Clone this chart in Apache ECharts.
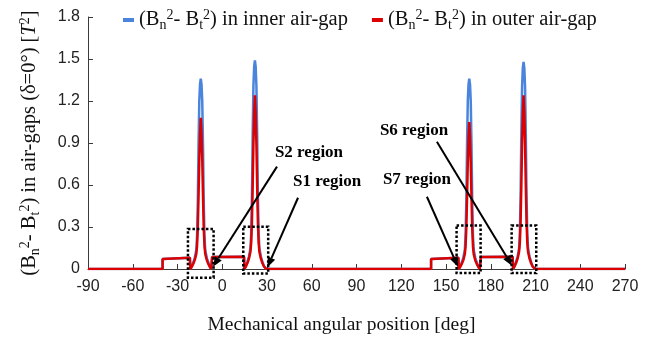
<!DOCTYPE html>
<html><head><meta charset="utf-8">
<script src="https://cdn.jsdelivr.net/npm/echarts@6/dist/echarts.min.js"></script>
<style>html,body{margin:0;padding:0;background:#fff}#c{width:656px;height:342px}</style>
</head><body><div id="c"></div>
<script>
// ---- data ----
const angle = [
  -90, -40, -40, -21.7,
  -21.4, -20.4, -19.4, -18.4, -17.4, -16.9, -16.4, -15.9, -15.4, -14.9, -14.4, -13.9, -13.4, -12.9, -12.4, -11.9, -11.4, -10.4, -9.4, -8.4, -7.4,
  -6.8, 14.6,
  14.9, 15.9, 16.9, 17.9, 18.9, 19.4, 19.9, 20.4, 20.9, 21.4, 21.9, 22.4, 22.9, 23.4, 23.9, 24.4, 24.9, 25.9, 26.9, 27.9, 29.6,
  140, 140, 158.3,
  158.6, 159.6, 160.6, 161.6, 162.6, 163.1, 163.6, 164.1, 164.6, 165.1, 165.6, 166.1, 166.6, 167.1, 167.6, 168.1, 168.6, 169.6, 170.6, 171.6, 172.6,
  173.4, 194.7,
  195.0, 196.0, 197.0, 198.0, 199.0, 199.5, 200.0, 200.5, 201.0, 201.5, 202.0, 202.5, 203.0, 203.5, 204.0, 204.5, 205.0, 206.0, 207.0, 208.0, 209.7,
  270
];
const innerAirGap = [
  0, 0, 0.072, 0.08,
  0, 0.02, 0.048, 0.082, 0.136, 0.231, 0.476, 0.884, 1.197, 1.319, 1.36, 1.319, 1.197, 0.884, 0.476, 0.231, 0.136, 0.082, 0.048, 0.02, 0,
  0.085, 0.088,
  0, 0.022, 0.052, 0.089, 0.149, 0.253, 0.522, 0.969, 1.311, 1.445, 1.49, 1.445, 1.311, 0.969, 0.522, 0.253, 0.149, 0.089, 0.052, 0.022, 0,
  0, 0.072, 0.08,
  0, 0.02, 0.048, 0.082, 0.136, 0.231, 0.476, 0.884, 1.197, 1.319, 1.36, 1.319, 1.197, 0.884, 0.476, 0.231, 0.136, 0.082, 0.048, 0.02, 0,
  0.085, 0.088,
  0, 0.022, 0.052, 0.089, 0.148, 0.252, 0.518, 0.962, 1.302, 1.436, 1.48, 1.436, 1.302, 0.962, 0.518, 0.252, 0.148, 0.089, 0.052, 0.022, 0,
  0
];
const outerAirGap = [
  0, 0, 0.072, 0.08,
  0, 0.016, 0.038, 0.065, 0.108, 0.162, 0.29, 0.52, 0.78, 0.97, 1.08, 0.97, 0.78, 0.52, 0.29, 0.162, 0.108, 0.065, 0.038, 0.016, 0,
  0.085, 0.088,
  0, 0.019, 0.043, 0.074, 0.124, 0.186, 0.335, 0.595, 0.893, 1.116, 1.24, 1.116, 0.893, 0.595, 0.335, 0.186, 0.124, 0.074, 0.043, 0.019, 0,
  0, 0.072, 0.08,
  0, 0.016, 0.037, 0.063, 0.105, 0.158, 0.284, 0.504, 0.756, 0.945, 1.05, 0.945, 0.756, 0.504, 0.284, 0.158, 0.105, 0.063, 0.037, 0.016, 0,
  0.085, 0.088,
  0, 0.019, 0.043, 0.074, 0.124, 0.186, 0.335, 0.595, 0.893, 1.116, 1.24, 1.116, 0.893, 0.595, 0.335, 0.186, 0.124, 0.074, 0.043, 0.019, 0,
  0
];
const xTickLabels = [-90, -60, -30, 0, 30, 60, 90, 120, 150, 180, 210, 240, 270];
const yTickLabels = [0, 0.3, 0.6, 0.9, 1.2, 1.5, 1.8];
const seriesNames = ['inner', 'outer'];
const regionNames = ['S2 region', 'S1 region', 'S6 region', 'S7 region'];

// ---- annotation geometry (data units) ----
const regionBoxes = [
  [-23, -5.8, -0.062, 0.286],
  [14.1, 30.8, -0.032, 0.302],
  [157.1, 173.2, -0.029, 0.31],
  [194, 210.5, -0.029, 0.31]
];
const regionLabelAt = [[35.3, 0.831], [47.4, 0.624], [105.7, 0.988], [107.7, 0.638]];
const regionArrowFrom = [[36.7, 0.731], [50.8, 0.509], [143.9, 0.909], [137.2, 0.516]];
const regionArrowTo = [[-6.2, 0.016], [30.3, 0.013], [194.2, 0.024], [158, 0.016]];

const SERIF = "'Liberation Serif','Times New Roman',serif";
const SANS = "'Liberation Sans',Arial,sans-serif";
const richBase = {
  a: {fontFamily: SERIF, fontSize: 20.5, color: '#111', lineHeight: 24},
  it: {fontFamily: SERIF, fontSize: 20.5, color: '#111', fontStyle: 'italic', lineHeight: 24},
  sub: {fontFamily: SERIF, fontSize: 14, color: '#111', verticalAlign: 'bottom', lineHeight: 14},
  sup: {fontFamily: SERIF, fontSize: 14, color: '#111', verticalAlign: 'top', lineHeight: 14}
};

const pairs = arr => angle.map((x, i) => [x, arr[i]]);

const chart = echarts.init(document.getElementById('c'), null, {renderer: 'canvas'});
const option = {
  animation: false,
  backgroundColor: '#fff',
  grid: {left: 88, right: 31, top: 17, bottom: 73},
  legend: {
    data: seriesNames,
    left: 118, top: 3,
    icon: 'rect', itemWidth: 11, itemHeight: 4, itemGap: 24,
    formatter: n => '{a|(B}{sub|n}{sup|2}{a|- B}{sub|t}{sup|2}{a|) in ' + n + ' air-gap}',
    textStyle: {rich: richBase}
  },
  xAxis: {
    type: 'value',
    min: xTickLabels[0], max: xTickLabels[xTickLabels.length - 1],
    interval: xTickLabels[1] - xTickLabels[0],
    axisLine: {onZero: false, lineStyle: {color: '#3a3a3a', width: 1}},
    axisTick: {inside: true, length: 5, lineStyle: {color: '#3a3a3a'}},
    splitLine: {show: false},
    axisLabel: {fontFamily: SANS, fontSize: 16, color: '#222', margin: 10},
    name: 'Mechanical angular position [deg]',
    nameLocation: 'middle', nameGap: 46,
    nameTextStyle: {fontFamily: SERIF, fontSize: 19.5, color: '#111', padding: [0, 30, 0, 0]}
  },
  yAxis: {
    type: 'value',
    min: yTickLabels[0], max: yTickLabels[yTickLabels.length - 1],
    interval: yTickLabels[1] - yTickLabels[0],
    axisLine: {show: true, onZero: false, lineStyle: {color: '#3a3a3a', width: 1}},
    axisTick: {show: true, inside: true, length: 5, lineStyle: {color: '#3a3a3a'}},
    splitLine: {show: false},
    axisLabel: {fontFamily: SANS, fontSize: 16, color: '#222', margin: 8},
    name: '{a|(B}{sub|n}{sup|2}{a|- B}{sub|t}{sup|2}{a|) in air-gaps (δ=0°) [}{it|T}{sup|2}{a|]}',
    nameLocation: 'middle', nameGap: 46, nameRotate: 90,
    nameTextStyle: {rich: richBase}
  },
  series: [
    {name: seriesNames[0], type: 'line', data: pairs(innerAirGap), showSymbol: false,
     lineStyle: {color: '#4a84dc', width: 2.5}, itemStyle: {color: '#4a84dc'}, z: 2},
    {name: seriesNames[1], type: 'line', data: pairs(outerAirGap), showSymbol: false,
     lineStyle: {color: '#dc0000', width: 2.5}, itemStyle: {color: '#dc0000'}, z: 3}
  ]
};
chart.setOption(option);

const P = p => chart.convertToPixel({gridIndex: 0}, p);
const g = [];
regionBoxes.forEach(b => {
  const p1 = P([b[0], b[3]]), p2 = P([b[1], b[2]]);
  g.push({type: 'rect', z: 100,
    shape: {x: p1[0], y: p1[1], width: p2[0] - p1[0], height: p2[1] - p1[1]},
    style: {fill: 'none', stroke: '#000', lineWidth: 2.5, lineDash: [2.5, 2]}});
});
regionNames.forEach((t, i) => {
  const lp = P(regionLabelAt[i]);
  g.push({type: 'text', z: 100, x: lp[0], y: lp[1],
    style: {text: t, fontFamily: SERIF, fontWeight: 'bold', fontSize: 17, fill: '#000', align: 'left', verticalAlign: 'middle'}});
  const a = P(regionArrowFrom[i]), b = P(regionArrowTo[i]);
  const ang = Math.atan2(b[1] - a[1], b[0] - a[0]);
  const L = 10, W = 4;
  const base = [b[0] - L * Math.cos(ang), b[1] - L * Math.sin(ang)];
  g.push({type: 'line', z: 100, shape: {x1: a[0], y1: a[1], x2: base[0], y2: base[1]},
    style: {stroke: '#000', lineWidth: 2}});
  g.push({type: 'polygon', z: 100, shape: {points: [
    b,
    [base[0] + W * Math.sin(ang), base[1] - W * Math.cos(ang)],
    [base[0] - W * Math.sin(ang), base[1] + W * Math.cos(ang)]
  ]}, style: {fill: '#000'}});
});
chart.setOption({graphic: g});
</script>
</body></html>
